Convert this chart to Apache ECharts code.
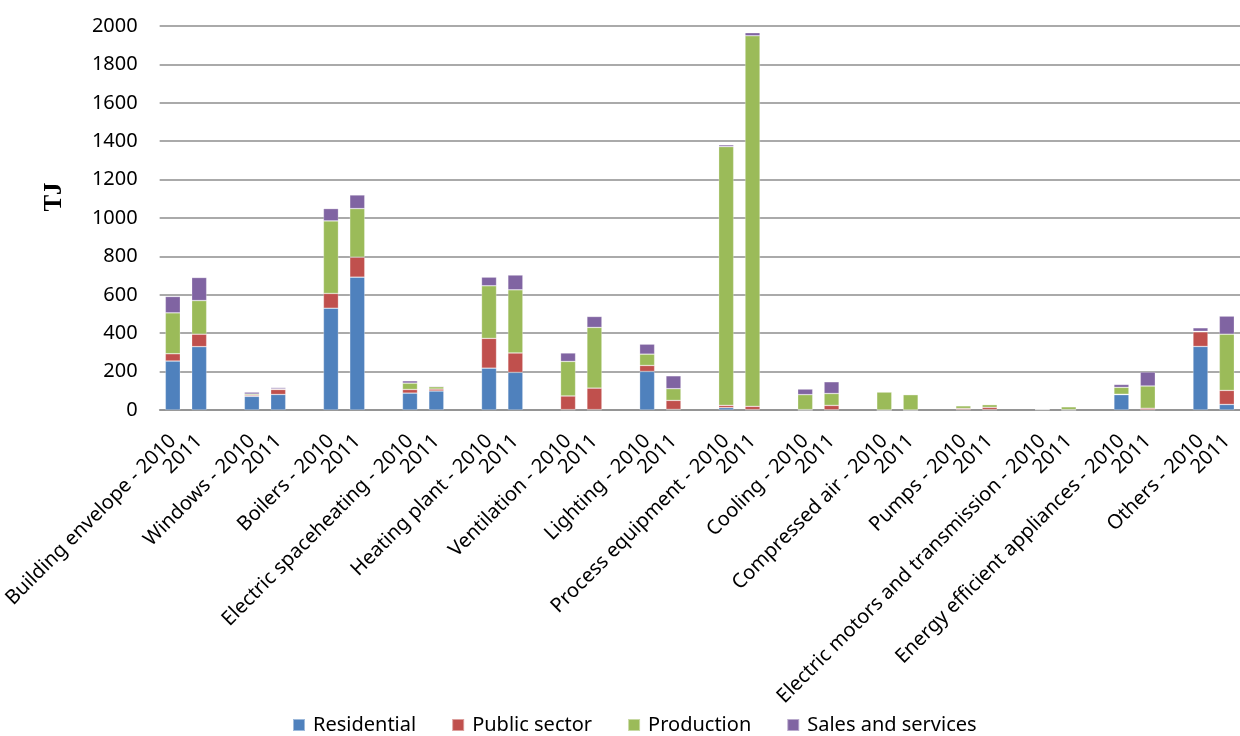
<!DOCTYPE html>
<html>
<head>
<meta charset="utf-8">
<title>Energy savings by measure, 2010 and 2011 (TJ)</title>
<script src="https://cdn.jsdelivr.net/npm/echarts@6/dist/echarts.min.js"></script>
<style>
  html, body { margin: 0; padding: 0; background: #ffffff; }
  #chart { width: 1240px; height: 736px; }
</style>
</head>
<body>
<div id="chart"></div>
<script>
// Measure groups; each has a 2010 and a 2011 column
const groups = [
  'Building envelope', 'Windows', 'Boilers', 'Electric spaceheating',
  'Heating plant', 'Ventilation', 'Lighting', 'Process equipment',
  'Cooling', 'Compressed air', 'Pumps', 'Electric motors and transmission',
  'Energy efficient appliances', 'Others'
];
const years = ['2010', '2011'];

// Values in TJ, ordered [group0 2010, group0 2011, group1 2010, ...]
const residential = [255, 330, 71, 81, 530, 692, 88, 99, 218, 196, 2, 2, 201, 3,
                     12, 2, 0, 1, 0, 0, 2, 2, 2, 0, 80, 1, 331, 29];
const publicSector = [38, 65, 6, 26, 77, 104, 19, 10, 155, 101, 71, 112, 31, 47,
                      12, 17, 2, 23, 0, 0, 6, 12, 2, 2, 2, 8, 76, 73];
const production = [213, 175, 6, 3, 378, 253, 33, 12, 274, 329, 180, 316, 59, 61,
                    1348, 1930, 78, 62, 94, 80, 14, 14, 3, 15, 36, 116, 3, 293];
const salesServices = [85, 120, 10, 7, 64, 71, 12, 4, 45, 77, 44, 57, 52, 67,
                       9, 16, 29, 61, 0, 0, 0, 0, 0, 0, 15, 73, 18, 94];

const yTicks = [0, 200, 400, 600, 800, 1000, 1200, 1400, 1600, 1800, 2000];

// Category slots: two years per group with an empty slot between groups
const categories = [];
const labelOf = {};
groups.forEach((g, i) => {
  const a = g + ' - ' + years[0];
  const b = i + ':' + years[1];
  categories.push(a); labelOf[a] = a;
  categories.push(b); labelOf[b] = years[1];
  if (i < groups.length - 1) {
    const gap = 'gap' + i;
    categories.push(gap); labelOf[gap] = '';
  }
});

function slotData(values) {
  const out = [];
  groups.forEach((g, i) => {
    out.push(values[2 * i], values[2 * i + 1]);
    if (i < groups.length - 1) out.push('-');
  });
  return out;
}

const seriesDefs = [
  { name: 'Residential', values: residential, color: '#4F81BD' },
  { name: 'Public sector', values: publicSector, color: '#C0504D' },
  { name: 'Production', values: production, color: '#9BBB59' },
  { name: 'Sales and services', values: salesServices, color: '#8064A2' }
];

const FONT = '"Noto Sans", "Open Sans", sans-serif';
const chart = echarts.init(document.getElementById('chart'), null, { renderer: 'canvas' });

chart.setOption({
  animation: false,
  backgroundColor: '#ffffff',
  grid: { left: 153, right: 0, top: 26, bottom: 326, containLabel: false },
  xAxis: {
    type: 'category',
    data: categories,
    axisLine: { show: true, lineStyle: { color: '#8e8e8e', width: 1.6 } },
    axisTick: { show: false },
    axisLabel: {
      interval: 0,
      rotate: 45,
      margin: 28,
      color: '#000000',
      fontFamily: FONT,
      fontSize: 20,
      formatter: v => labelOf[v]
    }
  },
  yAxis: {
    type: 'value',
    min: yTicks[0],
    max: yTicks[yTicks.length - 1],
    interval: yTicks[1] - yTicks[0],
    axisLine: { show: false },
    axisTick: { show: false },
    splitLine: { show: true, lineStyle: { color: '#8e8e8e', width: 1.6 } },
    axisLabel: {
      margin: 22, color: '#000000', fontFamily: FONT, fontSize: 20,
      formatter: v => String(v)
    }
  },
  legend: {
    left: 292,
    top: 715,
    padding: 0,
    icon: 'rect',
    itemWidth: 12,
    itemHeight: 12,
    itemGap: 35,
    textStyle: { color: '#000000', fontFamily: FONT, fontSize: 20, padding: [0, 0, 0, 3] },
    data: seriesDefs.map(s => s.name)
  },
  graphic: [{
    type: 'text',
    x: 55,
    y: 197,
    rotation: Math.PI / 2,
    style: {
      text: 'TJ',
      fill: '#000000',
      font: 'bold 25px "Liberation Serif", "DejaVu Serif", serif',
      align: 'center',
      verticalAlign: 'middle'
    }
  }],
  series: seriesDefs.map(s => ({
    name: s.name,
    type: 'bar',
    stack: 'total',
    barWidth: 15,
    data: slotData(s.values),
    itemStyle: {
      color: s.color,
      borderColor: 'rgba(255,255,255,0.45)',
      borderWidth: 0.6
    }
  }))
});
</script>
</body>
</html>
